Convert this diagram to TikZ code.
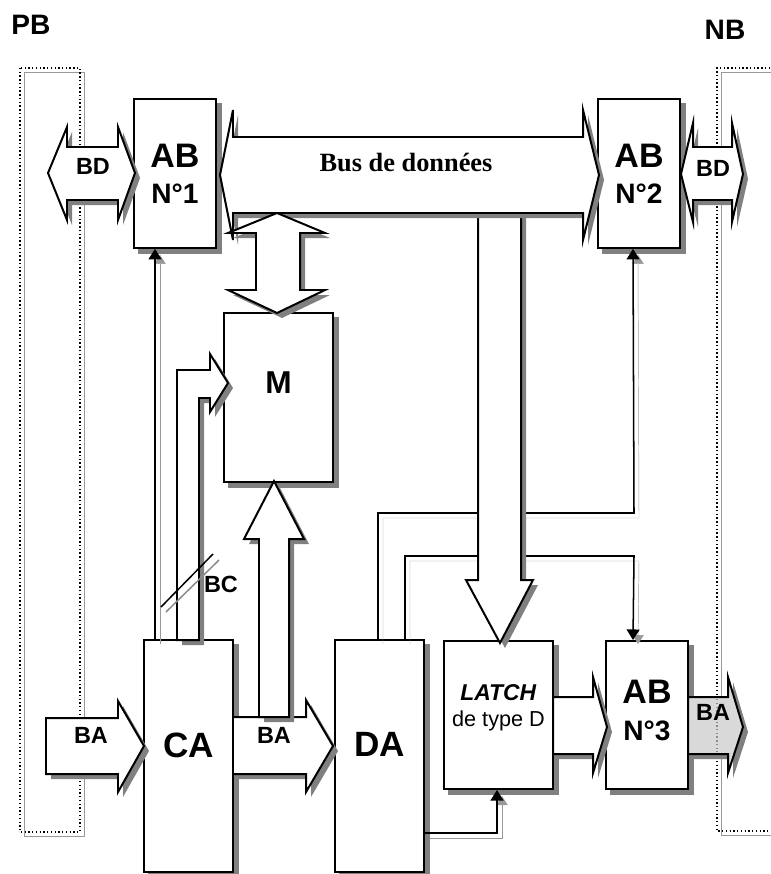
\documentclass[tikz,border=0pt]{standalone}
\usepackage{fontspec}
\setmainfont{Liberation Sans}
\newfontfamily\busfont{Liberation Serif}
\usetikzlibrary{arrows.meta, positioning, calc, backgrounds}
\tikzset{
    % Gray shadow, shifted right and down
    shadowfill/.style={
        fill=black!50,
        shift={(5,5)}
    },
    % Block style
    block/.style={
        rectangle,
        draw=black,
        fill=white,
        line width=1.7pt,
        inner sep=0pt,
        align=center
    },
    % AB block
    abbox/.style={
        block,
        minimum width=2.46cm,
        minimum height=4.46cm,
        font=\bfseries\fontsize{29}{31}\selectfont
    },
    % Big unit block
    unit/.style={
        block,
        minimum width=2.67cm,
        minimum height=6.96cm,
        text depth=19pt,
        font=\bfseries\fontsize{30}{32}\selectfont
    },
    % Fat bus arrow
    busarrow/.style={
        draw=black,
        fill=white,
        line width=1.7pt,
        line join=miter
    },
    % Control wire
    wire/.style={
        draw=black,
        line width=1.3pt,
        -{Triangle[length=9pt,width=11pt]},
        preaction={draw=black!40, transform canvas={xshift=1.5mm, yshift=-1.5mm}}
    },
    % Dotted border
    border/.style={
        draw=black,
        dotted,
        line width=1.2pt,
        preaction={draw=black!40, transform canvas={xshift=1.4mm, yshift=-1.4mm}}
    },
    % Bus label
    buslabel/.style={
        inner sep=0pt,
        font=\bfseries\fontsize{20}{20}\selectfont
    }
}
% fat arrow with its shadow
\newcommand{\fatarrow}[2][]{%
    \fill[shadowfill] #2;
    \draw[busarrow, #1] #2;
}

\begin{document}
\begin{tikzpicture}[x=0.03cm, y=-0.03cm]
    \useasboundingbox (0,0) rectangle (770,874);

    % Borders
    \node (pb) [buslabel, font=\bfseries\fontsize{24}{24}\selectfont] at (31,25) {PB};
    \node (nb) [buslabel, font=\bfseries\fontsize{24}{24}\selectfont] at (725,30) {NB};
    \draw[border] (20,68) rectangle (80,832);
    \draw[border] (770,68) -- (717,68) -- (717,831) -- (770,831);

    % Blocks
    \node (ab1) [abbox] at (175,173.5) {AB\\{\fontsize{24}{31}\selectfont N°1}};
    \node (ab2) [abbox] at (639,173.5) {AB\\{\fontsize{24}{31}\selectfont N°2}};
    \node (m) [block, minimum width=3.27cm, minimum height=5.07cm, text depth=25pt,
        font=\bfseries\fontsize{27}{30}\selectfont] at (278.5,397.5) {M};
    \node (ca) [unit] at (188.5,756) {CA};
    \node (da) [unit, right=3cm of ca] {DA};
    \node (latch) [block, minimum width=3.27cm, minimum height=4.44cm, text depth=16pt,
        font=\fontsize{18.5}{22}\selectfont] at (498.5,715) {{\fontsize{19.5}{22}\selectfont\textbf{\textit{LATCH}}}\\de type D};
    \node (ab3) [abbox, minimum height=4.44cm, text depth=8pt] at (647,715) {AB\\{\fontsize{24}{31}\selectfont N°3}};

    \begin{scope}[on background layer]
        \foreach \blk in {ab1, ab2, ab3, m, ca, da, latch}
            \fill[black!50] ($(\blk.north west)+(5,5)$) rectangle ($(\blk.south east)+(5,5)$);
    \end{scope}

    % Control wires
    \coordinate (turn1) at (634,513);
    \coordinate (turn2) at (634,556);
    \draw[wire] ($(ca.north west)+(12,0)$) -- ($(ab1.south west)+(22,0)$);
    \draw[wire] ($(da.north west)+(44,0)$) |- (turn1) -- ($(ab2.south west)+(36,0)$);
    \draw[wire] ($(da.north west)+(71,0)$) |- (turn2) -- ($(ab3.north west)+(28,0)$);
    \draw[wire] ($(da.south east)+(0,-40)$) -| ($(latch.south west)+(54,0)$);

    % Data bus
    \fatarrow{(478,200) -- (478,580) -- (466,580) -- (500,643) -- (533,580) -- (521,580) -- (521,200) -- cycle}
    \fatarrow{(220,175) -- (233,110) -- (233,137) -- (583,137) -- (583,110) -- (599,175)
        -- (583,240) -- (583,213) -- (233,213) -- (233,240) -- cycle}
    \node (data) [anchor=base, font=\busfont\bfseries\fontsize{22.5}{22.5}\selectfont] at (406,172) {Bus de données};
    \fatarrow{(277,213) -- (325,233) -- (300,233) -- (300,290) -- (325,290) -- (277,313)
        -- (228,290) -- (256,290) -- (256,233) -- (228,233) -- cycle}

    % BD arrows
    \fatarrow{(48,173) -- (67,127) -- (67,147) -- (118,147) -- (118,127) -- (135,173)
        -- (118,220) -- (118,200) -- (67,200) -- (67,220) -- cycle}
    \node (bd1) [buslabel] at (93,166) {BD};
    \fatarrow{(681,174) -- (693,123) -- (693,147) -- (732,147) -- (732,123) -- (743,174)
        -- (732,222) -- (732,200) -- (693,200) -- (693,222) -- cycle}
    \node (bd2) [buslabel] at (713,168) {BD};

    % Address bus
    \fatarrow{(46,718) -- (118,718) -- (118,701) -- (144,746) -- (118,792) -- (118,774) -- (46,774) -- cycle}
    \node (ba1) [buslabel] at (91,735) {BA};
    \fatarrow{(233,717) -- (306,717) -- (306,700) -- (333,746) -- (306,792) -- (306,774) -- (233,774) -- cycle}
    \node (ba2) [buslabel] at (274,735) {BA};
    \fatarrow{(259,717) -- (259,539) -- (244,539) -- (274,481) -- (304,539) -- (289,539) -- (289,717) -- cycle}
    \fatarrow{(553,697) -- (593,697) -- (593,677) -- (607,727) -- (593,773) -- (593,754) -- (553,754) -- cycle}
    \fatarrow[fill=black!15]{(688,697) -- (728,697) -- (728,677) -- (743,727) -- (728,773) -- (728,754) -- (688,754) -- cycle}
    \draw[dotted, line width=1.2pt, black!45] (717,699) -- (717,752);
    \node (ba3) [buslabel] at (713,712) {BA};

    % Control bus
    \fatarrow{(177,640) -- (177,370) -- (210,370) -- (210,354) -- (228,383) -- (210,412)
        -- (210,398) -- (199,398) -- (199,640) -- cycle}
    \draw[line width=1.3pt, black!45] (166,612) -- (219,560);
    \draw[line width=1.3pt] (161,607) -- (213,554);
    \node (bc) [buslabel] at (221,584) {BC};
\end{tikzpicture}
\end{document}
